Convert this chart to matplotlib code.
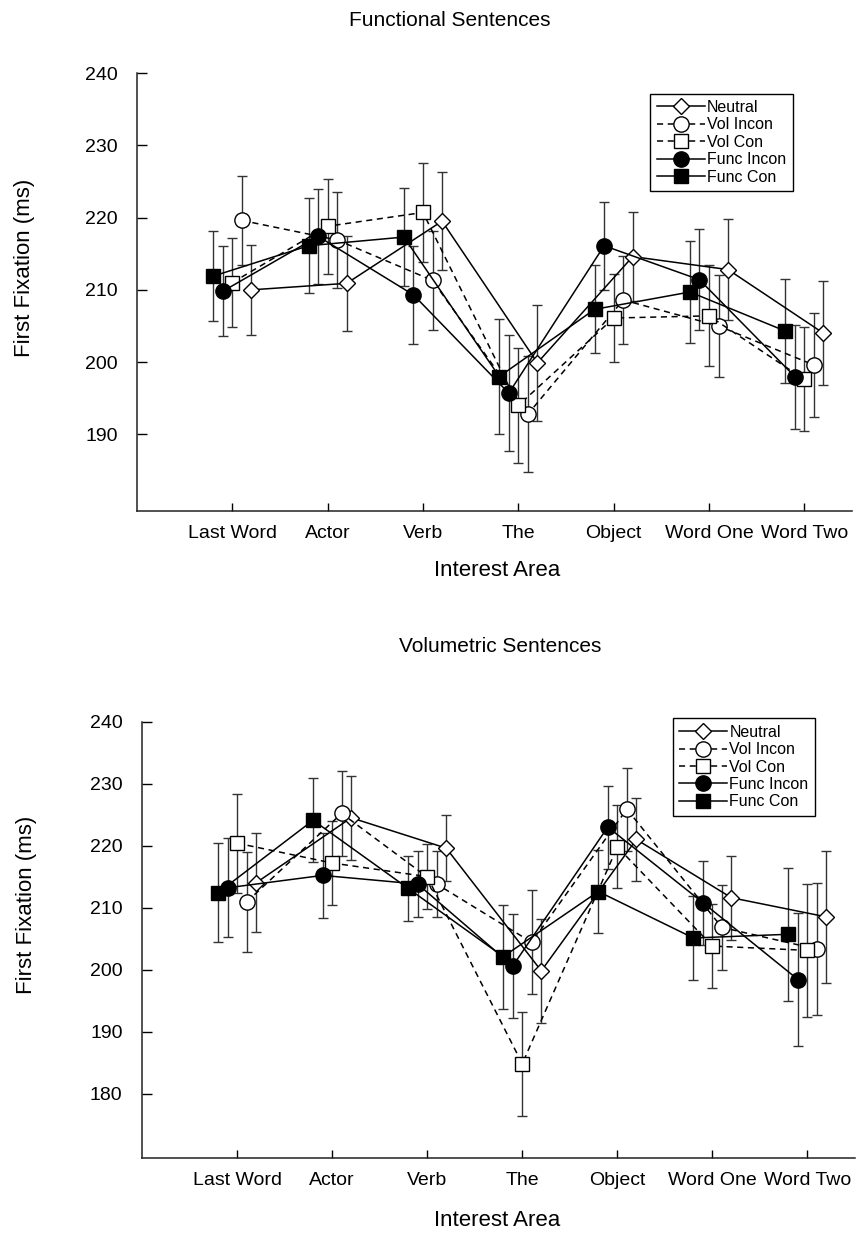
import numpy as np
import matplotlib
matplotlib.use("Agg")
import matplotlib.pyplot as plt

plt.rcParams['font.family'] = ['Liberation Sans', 'DejaVu Sans']

# categories on the x axis
areas = ["Last Word", "Actor", "Verb", "The", "Object", "Word One", "Word Two"]
conditions = ["Neutral", "Vol Incon", "Vol Con", "Func Incon", "Func Con"]

# Functional sentences (ms)
neutral_f = [210.0, 210.9, 219.5, 199.9, 214.6, 212.8, 204.0]
vol_incon_f = [219.6, 216.9, 211.3, 192.8, 208.6, 205.0, 199.6]
vol_con_f = [211.0, 218.8, 220.7, 194.0, 206.1, 206.4, 197.6]
func_incon_f = [209.8, 217.4, 209.3, 195.7, 216.1, 211.4, 198.0]
func_con_f = [211.9, 216.1, 217.3, 198.0, 207.3, 209.7, 204.3]
err_f = [6.2, 6.6, 6.8, 8.0, 6.1, 7.0, 7.2]

# Volumetric sentences (ms)
neutral_v = [214.0, 224.5, 219.6, 199.8, 221.0, 211.6, 208.5]
vol_incon_v = [210.9, 225.2, 213.8, 204.4, 225.9, 206.8, 203.3]
vol_con_v = [220.4, 217.2, 215.0, 184.8, 219.8, 203.8, 203.1]
func_incon_v = [213.2, 215.2, 213.8, 200.6, 223.0, 210.8, 198.4]
func_con_v = [212.4, 224.1, 213.1, 202.1, 212.6, 205.1, 205.7]
err_v = [8.0, 6.8, 5.3, 8.4, 6.7, 6.8, 10.7]

# per condition: offset, marker, face colour, line style, marker size
STYLE = {
    "Neutral":    (0.2,  'D', 'white', '-',  8),
    "Vol Incon":  (0.1,  'o', 'white', (0, (4, 3)), 11),
    "Vol Con":    (0.0,  's', 'white', (0, (4, 3)), 10.5),
    "Func Incon": (-0.1, 'o', 'black', '-',  11),
    "Func Con":   (-0.2, 's', 'black', '-',  10.5),
}


def draw_panel(ax, series, err, ylim, yticks, legend_xy):
    x = np.arange(1, len(areas) + 1)
    for i, cond in enumerate(conditions):
        off, mk, fc, ls, ms = STYLE[cond]
        xs = x + off
        ax.errorbar(xs, series[cond], yerr=err, fmt='none', ecolor='#333333',
                    elinewidth=1.0, capsize=3.5, capthick=1.0, zorder=2)
        ax.plot(xs, series[cond], color='black', linestyle=ls, lw=1.1,
                marker=mk, markersize=ms, markerfacecolor=fc,
                markeredgecolor='black', markeredgewidth=1.0,
                label=cond, zorder=3 + i)
    ax.set_xlim(0, 7.5)
    ax.set_ylim(*ylim)
    ax.set_xticks(x)
    ax.set_xticklabels(areas, fontsize=14)
    ax.set_yticks(yticks)
    ax.set_yticklabels([str(t) for t in yticks], fontsize=14)
    ax.tick_params(axis='y', direction='in', length=7, pad=14, width=1)
    ax.tick_params(axis='x', direction='in', length=6, pad=10, width=1)
    for s in ['top', 'right']:
        ax.spines[s].set_visible(False)
    for s in ['left', 'bottom']:
        ax.spines[s].set_linewidth(1.1)
        ax.spines[s].set_color('#222222')
    leg = ax.legend(loc='upper left', bbox_to_anchor=legend_xy, fontsize=11.5,
                    handlelength=3.0, handletextpad=0.15, labelspacing=0.15,
                    borderpad=0.4, fancybox=False, framealpha=1,
                    edgecolor='black')
    leg.get_frame().set_linewidth(1.0)


fig = plt.figure(figsize=(8.59, 12.36), dpi=100)

ax1 = fig.add_axes([137 / 859, 1 - 511 / 1236, 715 / 859, 438 / 1236])
draw_panel(ax1,
           {"Neutral": neutral_f, "Vol Incon": vol_incon_f, "Vol Con": vol_con_f,
            "Func Incon": func_incon_f, "Func Con": func_con_f},
           err_f, (179.4, 240), [190, 200, 210, 220, 230, 240], (0.707, 0.971))

ax2 = fig.add_axes([142 / 859, 1 - 1158 / 1236, 713 / 859, 436.3 / 1236])
draw_panel(ax2,
           {"Neutral": neutral_v, "Vol Incon": vol_incon_v, "Vol Con": vol_con_v,
            "Func Incon": func_incon_v, "Func Con": func_con_v},
           err_v, (169.6, 240), [180, 190, 200, 210, 220, 230, 240], (0.733, 1.026))

# titles and axis labels placed in figure coordinates
fig.text(450 / 859, 1 - 20 / 1236, "Functional Sentences", ha='center', va='center', fontsize=15)
fig.text(500 / 859, 1 - 647 / 1236, "Volumetric Sentences", ha='center', va='center', fontsize=15)
fig.text(497 / 859, 1 - 570 / 1236, "Interest Area", ha='center', va='center', fontsize=16)
fig.text(497 / 859, 1 - 1220 / 1236, "Interest Area", ha='center', va='center', fontsize=16)
fig.text(25 / 859, 1 - 268 / 1236, "First Fixation (ms)", ha='center', va='center',
         rotation=90, fontsize=16)
fig.text(27 / 859, 1 - 905 / 1236, "First Fixation (ms)", ha='center', va='center',
         rotation=90, fontsize=16)

fig.savefig("out.png", dpi=100)
